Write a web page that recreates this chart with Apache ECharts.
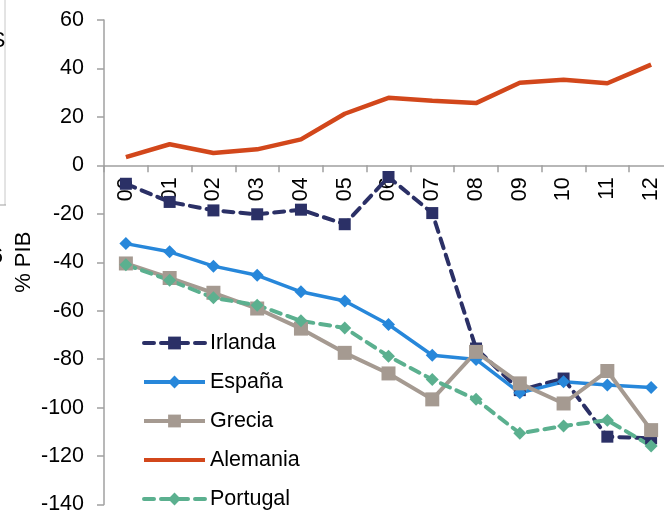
<!DOCTYPE html>
<html>
<head>
<meta charset="utf-8">
<script src="https://cdn.jsdelivr.net/npm/echarts@6/dist/echarts.min.js"></script>
<style>
html,body{margin:0;padding:0;background:#fff;}
#chart{width:664px;height:513px;}
</style>
</head>
<body>
<div id="chart"></div>
<script>
var categories = ['00','01','02','03','04','05','06','07','08','09','10','11','12'];
var irlanda  = [-7.6,-15.1,-18.6,-20.2,-18.3,-24.3,-4.8,-19.7,-75.6,-92.8,-88.0,-112.0,-112.7];
var espana   = [-32.3,-35.7,-41.6,-45.4,-52.2,-56.0,-65.7,-78.4,-80.1,-93.9,-89.3,-90.7,-91.7];
var grecia   = [-40.5,-46.5,-52.6,-59.1,-67.4,-77.4,-85.9,-96.6,-77.0,-90.0,-98.3,-84.9,-109.3];
var alemania = [3.4,8.7,5.1,6.6,10.7,21.3,27.9,26.7,25.7,34.1,35.3,33.9,41.6];
var portugal = [-41.0,-47.4,-54.7,-57.7,-64.2,-67.1,-78.8,-88.4,-96.6,-110.6,-107.6,-105.2,-115.9];
var yAxisName = '% PIB';

var FONT = 'Liberation Sans, Arial, sans-serif';
var GRID_TOP = 20, GRID_BOTTOM = 8.5, H = 513;
var YMIN = -140, YMAX = 60;
// distance from grid bottom to the zero line, so the category axis sits at y = 0
var zeroOffset = -((H - GRID_TOP - GRID_BOTTOM) * (0 - YMIN) / (YMAX - YMIN));

var chart = echarts.init(document.getElementById('chart'), null, {renderer:'canvas'});
chart.setOption({
  animation: false,
  backgroundColor: '#ffffff',
  textStyle: {fontFamily: FONT},
  grid: {left: 104, right: -9, top: GRID_TOP, bottom: GRID_BOTTOM, containLabel: false, outerBoundsMode: 'none'},
  legend: {
    orient: 'vertical',
    left: 142, top: 332, padding: 0,
    itemWidth: 61, itemHeight: 16, itemGap: 17,
    lineStyle: {width: 4},
    textStyle: {fontSize: 21.5, color: '#000', fontFamily: FONT, lineHeight: 20},
    data: ['Irlanda','España','Grecia',{name:'Alemania', itemStyle:{opacity:0}},'Portugal']
  },
  xAxis: {
    type: 'category',
    data: categories,
    boundaryGap: true,
    position: 'bottom',
    offset: zeroOffset,
    axisLine: {onZero: false, lineStyle: {color: '#a0a0a0', width: 1.5}},
    axisTick: {show: true, length: 7, lineStyle: {color: '#a0a0a0', width: 1.5}},
    axisLabel: {rotate: 90, margin: 12, fontSize: 21.5, color: '#000', fontFamily: FONT}
  },
  yAxis: {
    type: 'value',
    min: YMIN, max: YMAX, interval: 20,
    name: yAxisName,
    nameLocation: 'middle',
    nameRotate: 90,
    nameGap: 69,
    nameMoveOverlap: false,
    nameTextStyle: {fontSize: 22, color: '#000', fontFamily: FONT},
    axisLine: {show: true, lineStyle: {color: '#a0a0a0', width: 1.5}},
    axisTick: {show: true, length: 7, lineStyle: {color: '#a0a0a0', width: 1.5}},
    splitLine: {show: false},
    axisLabel: {margin: 20, fontSize: 21.5, color: '#000', fontFamily: FONT}
  },
  graphic: [
    {type: 'line', shape: {x1: 5, y1: 0, x2: 5, y2: 205}, style: {stroke: '#c8c8c8', lineWidth: 1}},
    {type: 'line', shape: {x1: 0, y1: 205, x2: 6, y2: 205}, style: {stroke: '#a0a0a0', lineWidth: 1}},
    {type: 'text', left: -9, top: 30, style: {text: 'S', fontSize: 21.5, fill: '#000', fontFamily: FONT}},
    {type: 'text', left: -9, top: 246, style: {text: '6', fontSize: 21.5, fill: '#000', fontFamily: FONT}}
  ],
  series: [
    {name: 'Irlanda', type: 'line', data: irlanda, symbol: 'rect', symbolSize: 12,
     lineStyle: {color: '#2B3066', width: 4, type: [10, 7], cap: 'round'},
     itemStyle: {color: '#2B3066'}},
    {name: 'España', type: 'line', data: espana, symbol: 'diamond', symbolSize: 13,
     lineStyle: {color: '#2787DA', width: 3.5},
     itemStyle: {color: '#2787DA'}},
    {name: 'Grecia', type: 'line', data: grecia, symbol: 'rect', symbolSize: 14,
     lineStyle: {color: '#A59A91', width: 4},
     itemStyle: {color: '#A59A91'}},
    {name: 'Alemania', type: 'line', data: alemania, symbol: 'none', showSymbol: false,
     lineStyle: {color: '#D2471B', width: 4.5},
     itemStyle: {color: '#D2471B'}},
    {name: 'Portugal', type: 'line', data: portugal, symbol: 'diamond', symbolSize: 13,
     lineStyle: {color: '#5BB08F', width: 4, type: [10, 7], cap: 'round'},
     itemStyle: {color: '#5BB08F'}}
  ]
});
</script>
</body>
</html>
